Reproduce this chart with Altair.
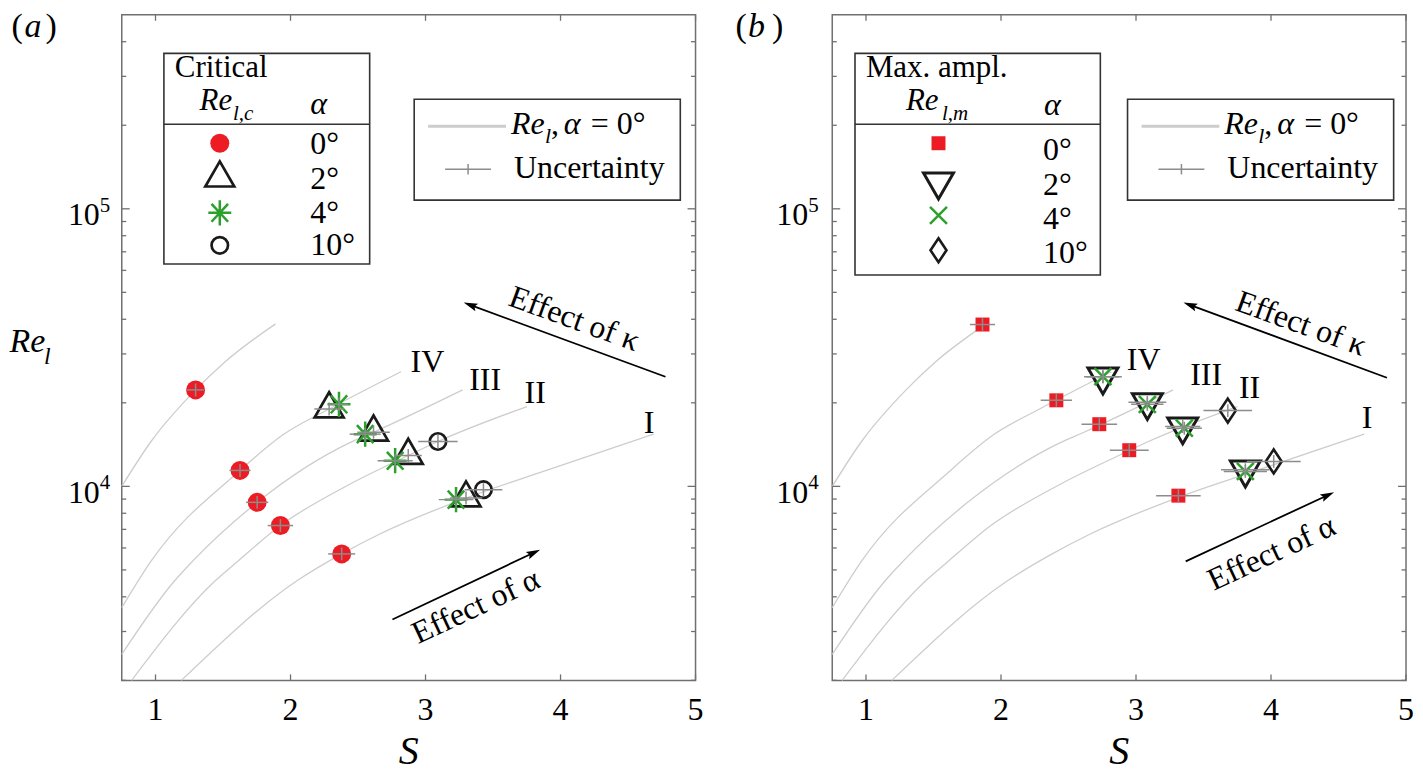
import altair as alt
import pandas as pd
import math

# ---------------- data ----------------
curve_names = ["0", "IV", "III", "II", "I"]
curve_S = [
    [0.75, 0.967, 1.297, 1.516, 1.889],
    [0.75, 0.967, 1.626, 1.944, 2.286, 2.818],
    [0.75, 1.14, 1.275, 1.753, 2.432, 2.615, 3.275],
    [0.823, 1.44, 1.61, 1.925, 2.432, 2.872, 3.092, 3.751],
    [1.191, 2.045, 2.379, 2.654, 3.30, 3.873, 4.69],
]
curve_Re = [
    [10000, 14510, 22260, 28120, 38500],
    [3656, 5377, 11415, 15340, 19000, 25880],
    [2483, 4561, 5377, 8760, 14320, 15670, 22260],
    [2000, 4561, 5377, 7225, 10140, 12920, 14510, 19380],
    [2000, 4561, 5711, 6707, 9077, 11320, 15420],
]

# panel (a): critical Re_{l,c}
a0_S = [1.297, 1.626, 1.753, 1.925, 2.379]
a0_Re = [22260, 11415, 8760, 7225, 5711]
a0_dS = [0.064, 0.078, 0.082, 0.094, 0.10]
a2_S = [2.286, 2.615, 2.872, 3.30]
a2_Re = [19000, 15670, 12920, 9077]
a2_dS = [0.11, 0.12, 0.10, 0.12]
a4_S = [2.359, 2.553, 2.775, 3.226]
a4_Re = [19760, 15420, 12370, 8959]
a4_dS = [0.07, 0.115, 0.13, 0.128]
a10_S = [3.092, 3.429]
a10_Re = [14510, 9731]
a10_dS = [0.146, 0.14]

# panel (b): maximum amplification Re_{l,m}
b0_S = [1.863, 2.41, 2.728, 2.95, 3.314]
b0_Re = [38290, 20420, 16750, 13500, 9260]
b0_dS = [0.093, 0.116, 0.132, 0.144, 0.165]
b2_S = [2.755, 3.084, 3.346, 3.81]
b2_Re = [24840, 20090, 16430, 11480]
b2_dS = [0.14, 0.14, 0.13, 0.18]
b4_S = [2.755, 3.084, 3.358, 3.81]
b4_Re = [24840, 19750, 16200, 11320]
b4_dS = [0.12, 0.12, 0.13, 0.16]
b10_S = [3.68, 4.02]
b10_Re = [18750, 12300]
b10_dS = [0.18, 0.20]

alpha_labels = ["0°", "2°", "4°", "10°"]
curve_labels = ["IV", "III", "II", "I"]
x_ticks = [1, 2, 3, 4, 5]
x_tick_labels = ["1", "2", "3", "4", "5"]
y_major = [10000, 100000]
y_major_base = ["10", "10"]
y_major_exp = ["4", "5"]
y_minor = [2000, 3000, 4000, 5000, 6000, 7000, 8000, 9000,
           20000, 30000, 40000, 50000, 60000, 70000, 80000, 90000,
           200000, 300000, 400000]

# ---------------- style ----------------
W, H = 575, 667
FX = W / 580.0
SERIF = "Liberation Serif"
RED = "#ed1c24"
GREEN = "#2ca02c"
BLACK = "#1a1a1a"
CURVE = "#cdcdcd"
UNC = "#8c8c8c"
FRAME = "#707070"

xsc = alt.Scale(domain=[0.75, 5], nice=False, zero=False)
ysc = alt.Scale(type="log", domain=[2000, 500000], nice=False)
ONE = pd.DataFrame({"d": [0]})

TRI_UP = "M0,-1.155L-1,0.577L1,0.577Z"
TRI_DN = "M0,1.155L-1,-0.577L1,-0.577Z"
STAR = "M-1,0L1,0M0,-1.1L0,1.1M-0.72,-0.78L0.72,0.78M-0.72,0.78L0.72,-0.78"
XMARK = "M-1,-1L1,1M-1,1L1,-1"
DIAM = "M0,-1.2L0.8,0L0,1.2L-0.8,0Z"

STY = {
    "a0": dict(shape="circle", filled=True, color=RED, size=361),
    "a2": dict(shape=TRI_UP, filled=False, color=BLACK, size=841, strokeWidth=2.7, strokeJoin="miter"),
    "a4": dict(shape=STAR, filled=False, color=GREEN, size=529, strokeWidth=2.5),
    "a10": dict(shape="circle", filled=False, color=BLACK, size=272, strokeWidth=2.7),
    "b0": dict(shape="square", filled=True, color=RED, size=196),
    "b2": dict(shape=TRI_DN, filled=False, color=BLACK, size=900, strokeWidth=3, strokeJoin="miter"),
    "b4": dict(shape=XMARK, filled=False, color=GREEN, size=289, strokeWidth=2.5),
    "b10": dict(shape=DIAM, filled=False, color=BLACK, size=400, strokeWidth=2.6, strokeJoin="miter"),
}


def X(f="S"):
    return alt.X(f + ":Q", scale=xsc, axis=None)


def Y(f="Re"):
    return alt.Y(f + ":Q", scale=ysc, axis=None)


def txt(s, x, y, size=32, italic=False, align="left", angle=0, baseline="alphabetic"):
    kw = dict(text=s, font=SERIF, fontSize=size, align=align, baseline=baseline, color="black")
    if italic:
        kw["fontStyle"] = "italic"
    if angle:
        kw["angle"] = angle
    return alt.Chart(ONE).mark_text(**kw).encode(x=alt.value(x), y=alt.value(y))


def sym(key, x, y):
    return alt.Chart(ONE).mark_point(opacity=1, **STY[key]).encode(x=alt.value(x), y=alt.value(y))


def series(key, S, Re):
    df = pd.DataFrame({"S": S, "Re": Re})
    return alt.Chart(df).mark_point(opacity=1, **STY[key]).encode(x=X(), y=Y())


def unc(S, Re, dS):
    df = pd.DataFrame({"S": S, "Re": Re, "dS": dS})
    base = alt.Chart(df).transform_calculate(
        lo="datum.S - datum.dS", hi="datum.S + datum.dS",
        rlo="datum.Re / 1.055", rhi="datum.Re * 1.055")
    h = base.mark_rule(color=UNC, strokeWidth=1.5).encode(x=X("lo"), x2="hi:Q", y=Y())
    v = base.mark_rule(color=UNC, strokeWidth=1.5).encode(x=X(), y=Y("rlo"), y2="rhi:Q")
    return [h, v]


def hrule(x0, x1, y, color=BLACK, w=1.5):
    return alt.Chart(ONE).mark_rule(color=color, strokeWidth=w).encode(
        x=alt.value(x0), x2=alt.value(x1), y=alt.value(y))


def vrule(x, y0, y1, color=BLACK, w=1.5):
    return alt.Chart(ONE).mark_rule(color=color, strokeWidth=w).encode(
        x=alt.value(x), y=alt.value(y0), y2=alt.value(y1))


def box(x0, x1, y0, y1):
    return alt.Chart(ONE).mark_rect(fill="white", stroke="#333333", strokeWidth=1.6).encode(
        x=alt.value(x0), x2=alt.value(x1), y=alt.value(y0), y2=alt.value(y1))


ARROW = "M0,-1L-0.5,0.75L0,0.45L0.5,0.75Z"


def arrow(tx, ty, hx, hy):
    tx, hx = tx * FX, hx * FX
    dx, dy = hx - tx, hy - ty
    n = math.hypot(dx, dy)
    ux, uy = dx / n, dy / n
    r = 8
    ang = math.degrees(math.atan2(ux, -uy)) % 360
    line = alt.Chart(ONE).mark_rule(color="black", strokeWidth=1.8).encode(
        x=alt.value(tx), y=alt.value(ty), x2=alt.value(hx - ux * 6), y2=alt.value(hy - uy * 6))
    head = alt.Chart(ONE).mark_point(shape=ARROW, filled=True, color="black", size=(2 * r) ** 2,
                                     angle=ang, opacity=1).encode(
        x=alt.value(hx - ux * r), y=alt.value(hy - uy * r))
    return [line, head]


def common_layers():
    curves_df = pd.DataFrame([
        {"curve": nm, "i": i, "S": s, "Re": r}
        for nm, Ss, Rs in zip(curve_names, curve_S, curve_Re)
        for i, (s, r) in enumerate(zip(Ss, Rs))
    ])
    curves = alt.Chart(curves_df).mark_line(color=CURVE, strokeWidth=1.3, interpolate="monotone").encode(
        x=X(), y=Y(), detail="curve:N", order="i:Q")
    xt = pd.DataFrame({"S": x_ticks, "lab": x_tick_labels})
    ymaj = pd.DataFrame({"Re": y_major, "base": y_major_base, "exp": y_major_exp})
    ymin = pd.DataFrame({"Re": y_minor})
    L = [curves]
    L.append(alt.Chart(xt).mark_rule(color=FRAME, strokeWidth=1.3).encode(x=X(), y=alt.value(H), y2=alt.value(H - 6)))
    L.append(alt.Chart(xt).mark_rule(color=FRAME, strokeWidth=1.3).encode(x=X(), y=alt.value(0), y2=alt.value(6)))
    for src, ln in ((ymaj, 8), (ymin, 4.5)):
        L.append(alt.Chart(src).mark_rule(color=FRAME, strokeWidth=1.3).encode(y=Y(), x=alt.value(0), x2=alt.value(ln)))
        L.append(alt.Chart(src).mark_rule(color=FRAME, strokeWidth=1.3).encode(y=Y(), x=alt.value(W), x2=alt.value(W - ln)))
    L.append(alt.Chart(xt).mark_text(font=SERIF, fontSize=32, baseline="alphabetic", color="black").encode(
        x=X(), y=alt.value(H + 40), text="lab:N"))
    L.append(txt("S", W / 2, H + 84, size=40, italic=True, align="center"))
    return L, ymaj


def ylabels(ymaj, xr):
    return [
        alt.Chart(ymaj).mark_text(font=SERIF, fontSize=32, align="right", baseline="alphabetic", dy=16.5,
                                  color="black").encode(y=Y(), x=alt.value(xr), text="base:N"),
        alt.Chart(ymaj).mark_text(font=SERIF, fontSize=21, align="left", baseline="alphabetic", dy=3,
                                  color="black").encode(y=Y(), x=alt.value(xr), text="exp:N"),
    ]


def panel_tag(letter, x_open, x_let, x_close):
    top = 21.7 - 0.79 * 34
    return [txt("(", x_open, top, size=34, baseline="top"),
            txt(letter, x_let, top, size=34, italic=True, baseline="top"),
            txt(")", x_close, top, size=34, baseline="top")]


def legend2(x0):
    x0 = x0 * FX
    L = [box(x0, x0 + 269 * FX, 84.7, 185.7)]
    L.append(hrule(x0 + 14, x0 + 92, 111.7, color=CURVE, w=3))
    rx = x0 + 97
    L += [txt("Re", rx, 119.4, italic=True), txt("l", rx + 34, 128.7, size=22, italic=True),
          txt(",", rx + 40, 119.4), txt("α", rx + 53, 119.4, italic=True), txt("= 0°", rx + 80, 119.4)]
    L.append(hrule(x0 + 31, x0 + 77, 154.7, color=UNC, w=1.5))
    L.append(vrule(x0 + 54, 149.5, 160, color=UNC, w=1.5))
    L.append(txt("Uncertainty", x0 + 100, 163.7))
    return L


def legend1(x0, x1, y1, title, sub, subx, rows_key, sym_x, sym_y, lab_x, lab_y, rex, alx, aly):
    L = [box(x0 * FX, x1 * FX, 38.7, y1)]
    L.append(hrule(x0 * FX, x1 * FX, 109.7, color="#333333", w=1.6))
    L += [txt(title, (x0 + 11) * FX, 62, size=31), txt("Re", rex * FX, 95.5, size=31, italic=True),
          txt(sub, subx * FX, 105, size=21, italic=True), txt("α", alx * FX, aly, italic=True)]
    for key, lab, sy, ty in zip(rows_key, alpha_labels, sym_y, lab_y):
        L.append(sym(key, sym_x * FX, sy))
        L.append(txt(lab, lab_x * FX, ty))
    return L


# ---------------- panel (a) ----------------
LA, ymajA = common_layers()
LA += ylabels(ymajA, -22)
LA += [txt("Re", -112.4, 337.7, size=34, italic=True), txt("l", -78, 349.7, size=24, italic=True)]
LA += panel_tag("a", -110.4, -97.4, -76.4)
for key, S, Re in (("a0", a0_S, a0_Re), ("a2", a2_S, a2_Re), ("a4", a4_S, a4_Re), ("a10", a10_S, a10_Re)):
    LA.append(series(key, S, Re))
for S, Re, dS in ((a0_S, a0_Re, a0_dS), (a2_S, a2_Re, a2_dS), (a4_S, a4_Re, a4_dS), (a10_S, a10_Re, a10_dS)):
    LA += unc(S, Re, dS)
for lab, x, y in zip(curve_labels, [308.9, 367.3, 417.9, 532.9], [357.7, 376.2, 388.7, 419.5]):
    LA.append(txt(lab, x * FX, y, align="center"))
LA += arrow(549.6, 362.7, 345.6, 288.4)
LA.append(txt("Effect of κ", 457.6 * FX, 304.7, angle=20, align="center", baseline="middle"))
LA += arrow(273.6, 606, 422.9, 536)
LA.append(txt("Effect of  α", 357.9 * FX, 592.7, angle=335, align="center", baseline="middle"))
LA += legend1(42.6, 250.6, 249.7, "Critical", "l,c", 112.5, ["a0", "a2", "a4", "a10"],
              99.1, [128.7, 163.7, 198.4, 231], 190.6, [139.4, 174.4, 208.4, 241], 78.6, 190.6, 99.7)
LA += legend2(295.6)
panel_a = alt.layer(*LA).properties(width=W, height=H)

# ---------------- panel (b) ----------------
LB, ymajB = common_layers()
LB += ylabels(ymajB, -24)
LB += panel_tag("b", -97, -84.5, -60.4)
for key, S, Re in (("b0", b0_S, b0_Re), ("b2", b2_S, b2_Re), ("b4", b4_S, b4_Re), ("b10", b10_S, b10_Re)):
    LB.append(series(key, S, Re))
for S, Re, dS in ((b0_S, b0_Re, b0_dS), (b2_S, b2_Re, b2_dS), (b4_S, b4_Re, b4_dS), (b10_S, b10_Re, b10_dS)):
    LB += unc(S, Re, dS)
for lab, x, y in zip(curve_labels, [314.8, 378, 421.8, 540.7], [355.7, 371.2, 384.5, 414.5]):
    LB.append(txt(lab, x * FX, y, align="center"))
LB += arrow(560.7, 363.7, 355, 288.4)
LB.append(txt("Effect of κ", 474 * FX, 309.4, angle=20, align="center", baseline="middle"))
LB += arrow(357.3, 547.7, 507.3, 478.4)
LB.append(txt("Effect of  α", 444 * FX, 539.4, angle=335, align="center", baseline="middle"))
LB += legend1(23, 271, 260.7, "Max. ampl.", "l,m", 111, ["b0", "b2", "b4", "b10"],
              107.4, [128.7, 167.2, 201, 236], 213, [146, 180.7, 214.7, 248.4], 74.5, 214, 100.7)
LB += legend2(298.5)
panel_b = alt.layer(*LB).properties(width=W, height=H)

chart = alt.hconcat(panel_a, panel_b, spacing=137, bounds="flush").properties(padding=0).configure_view(
    stroke=FRAME, strokeWidth=1.5)

chart.save("out.html", embed_options={"renderer": "svg", "actions": False})
